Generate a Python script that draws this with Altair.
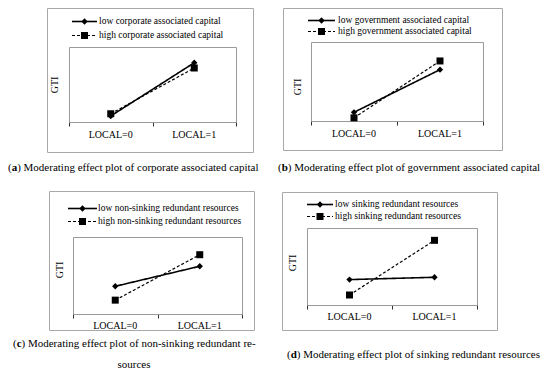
import altair as alt
import pandas as pd

# ---------------- data ----------------
categories = ["LOCAL=0", "LOCAL=1"]
levels = ["low", "high"]
y_title = "GTI"

legend_a = ["low corporate associated capital", "high corporate associated capital"]
legend_b = ["low government associated capital", "high government associated capital"]
legend_c = ["low non-sinking redundant resources", "high non-sinking redundant resources"]
legend_d = ["low sinking redundant resources", "high sinking redundant resources"]

low_a = [0.08, 0.79]
high_a = [0.11, 0.72]
low_b = [0.11, 0.65]
high_b = [0.04, 0.76]
low_c = [0.36, 0.62]
high_c = [0.18, 0.77]
low_d = [0.33, 0.36]
high_d = [0.13, 0.84]

caption_letters = ["a", "b", "c", "d"]
caption_rest = [
    [") Moderating effect plot of corporate associated capital"],
    [") Moderating effect plot of government associated capital"],
    [") Moderating effect plot of non-sinking redundant re-", "sources"],
    [") Moderating effect plot of sinking redundant resources"],
]

# ---------------- layout (styling only) ----------------
W, H = 534, 362
SERIF = "Liberation Serif"
CAP_FS = 11
LETTER_W = {"a": 0.5, "b": 0.556, "c": 0.444, "d": 0.556}

layout = {
    "a": dict(box=(39, 0, 245, 144), inner=(61, 39, 228, 114), label_y=127, gti=(47, 77),
              leg_y=(13, 27), leg_x=(64, 89, 91), cap_x=0, cap_y=[160], cap2_x=None),
    "b": dict(box=(275, 0, 494, 142), inner=(303, 34, 475, 113), label_y=126, gti=(290, 79),
              leg_y=(12, 23), leg_x=(300, 327, 330), cap_x=270, cap_y=[160], cap2_x=None),
    "c": dict(box=(41, 183, 246, 322), inner=(65, 229, 234, 306), label_y=318, gti=(52, 262),
              leg_y=(200, 213), leg_x=(60, 89, 90), cap_x=5, cap_y=[336, 357], cap2_x=126),
    "d": dict(box=(274, 184, 489, 322), inner=(299, 220, 469, 297), label_y=309, gti=(285, 255),
              leg_y=(196, 208), leg_x=(299, 325, 327), cap_x=279, cap_y=[347], cap2_x=None),
}

one = pd.DataFrame({"k": [0]})


def vrect(x1, y1, x2, y2, stroke):
    return alt.Chart(one).mark_rect(fill="white", fillOpacity=0, stroke=stroke, strokeWidth=1).encode(
        x=alt.value(x1 + 0.5), x2=alt.value(x2 + 0.5), y=alt.value(y1 + 0.5), y2=alt.value(y2 + 0.5)
    )


def panel(key, legend, low, high, letter, rest):
    L = layout[key]
    l, t, r, b = L["inner"]
    df = pd.DataFrame({
        "xi": [0, 1, 0, 1],
        "cat": categories * 2,
        "level": ["low", "low", "high", "high"],
        "gti": low + high,
    })
    lab_df = pd.DataFrame({"xi": [0, 1], "cat": categories})

    xs = alt.Scale(domain=[-0.5, 1.5], range=[l, r], nice=False, zero=False)
    ys = alt.Scale(domain=[0, 1], range=[b, t], nice=False, zero=False)
    xaxis = alt.Axis(orient="bottom", offset=b - H, values=[-0.5, 0.5, 1.5], labels=False,
                     ticks=True, tickSize=4, tickColor="#303030", domainColor="#303030",
                     domainWidth=1, tickWidth=1, grid=False, title=None)

    layers = []
    layers.append(vrect(*L["box"], stroke="#a8a8a8"))
    layers.append(vrect(l, t, r, b, stroke="#9a9a9a"))

    base = alt.Chart(df)
    lines = base.mark_line(color="black").encode(
        x=alt.X("xi:Q", scale=xs, axis=xaxis),
        y=alt.Y("gti:Q", scale=ys, axis=None),
        detail="level:N",
        strokeDash=alt.StrokeDash("level:N", scale=alt.Scale(domain=levels, range=[[1, 0], [3, 2]]), legend=None),
        strokeWidth=alt.StrokeWidth("level:O", scale=alt.Scale(domain=levels, range=[1.6, 1.2]), legend=None),
    )
    points = base.mark_point(filled=True, opacity=1, color="black").encode(
        x=alt.X("xi:Q", scale=xs, axis=xaxis),
        y=alt.Y("gti:Q", scale=ys, axis=None),
        shape=alt.Shape("level:N", scale=alt.Scale(domain=levels, range=["diamond", "square"]), legend=None),
        size=alt.Size("level:O", scale=alt.Scale(domain=levels, range=[40, 49]), legend=None),
    )
    labels = alt.Chart(lab_df).mark_text(font=SERIF, fontSize=10, color="black", baseline="middle").encode(
        x=alt.X("xi:Q", scale=xs, axis=xaxis),
        y=alt.value(L["label_y"]),
        text="cat:N",
    )
    layers += [lines, points, labels]

    gx, gy = L["gti"]
    layers.append(alt.Chart(one).mark_text(angle=270, font=SERIF, fontSize=10, color="black",
                                          baseline="middle", align="center", text=y_title).encode(
        x=alt.value(gx), y=alt.value(gy)))

    x1, x2, tx = L["leg_x"]
    for i, lev in enumerate(levels):
        yy = L["leg_y"][i]
        if lev == "low":
            rule = alt.Chart(one).mark_rule(color="black", strokeWidth=1.6)
            pt = alt.Chart(one).mark_point(filled=True, opacity=1, color="black", shape="diamond", size=40)
        else:
            rule = alt.Chart(one).mark_rule(color="black", strokeWidth=1.2, strokeDash=[3, 2])
            pt = alt.Chart(one).mark_point(filled=True, opacity=1, color="black", shape="square", size=49)
        layers.append(rule.encode(x=alt.value(x1), x2=alt.value(x2), y=alt.value(yy + 0.5)))
        layers.append(pt.encode(x=alt.value((x1 + x2) / 2), y=alt.value(yy + 0.5)))
        layers.append(alt.Chart(one).mark_text(align="left", baseline="middle", font=SERIF, fontSize=9.5,
                                               color="black", text=legend[i]).encode(
            x=alt.value(tx), y=alt.value(yy)))

    cx = L["cap_x"]
    cy = L["cap_y"][0]
    w_paren = 0.333 * CAP_FS
    w_let = LETTER_W[letter] * CAP_FS
    layers.append(alt.Chart(one).mark_text(align="left", baseline="middle", font=SERIF, fontSize=CAP_FS,
                                           color="black", text="(").encode(x=alt.value(cx), y=alt.value(cy)))
    layers.append(alt.Chart(one).mark_text(align="left", baseline="middle", font=SERIF, fontSize=CAP_FS,
                                           fontWeight="bold", color="black", text=letter).encode(
        x=alt.value(cx + w_paren), y=alt.value(cy)))
    layers.append(alt.Chart(one).mark_text(align="left", baseline="middle", font=SERIF, fontSize=CAP_FS,
                                           color="black", text=rest[0]).encode(
        x=alt.value(cx + w_paren + w_let), y=alt.value(cy)))
    if len(rest) > 1:
        layers.append(alt.Chart(one).mark_text(align="center", baseline="middle", font=SERIF, fontSize=CAP_FS,
                                               color="black", text=rest[1]).encode(
            x=alt.value(L["cap2_x"]), y=alt.value(L["cap_y"][1])))

    return alt.layer(*layers)


pa = panel("a", legend_a, low_a, high_a, caption_letters[0], caption_rest[0])
pb = panel("b", legend_b, low_b, high_b, caption_letters[1], caption_rest[1])
pc = panel("c", legend_c, low_c, high_c, caption_letters[2], caption_rest[2])
pd_ = panel("d", legend_d, low_d, high_d, caption_letters[3], caption_rest[3])

chart = alt.layer(pa, pb, pc, pd_).resolve_scale(x="independent", y="independent").properties(
    width=W, height=H, padding=0
).configure_view(stroke=None)

chart.save("out.html", embed_options={"renderer": "svg", "actions": False})
